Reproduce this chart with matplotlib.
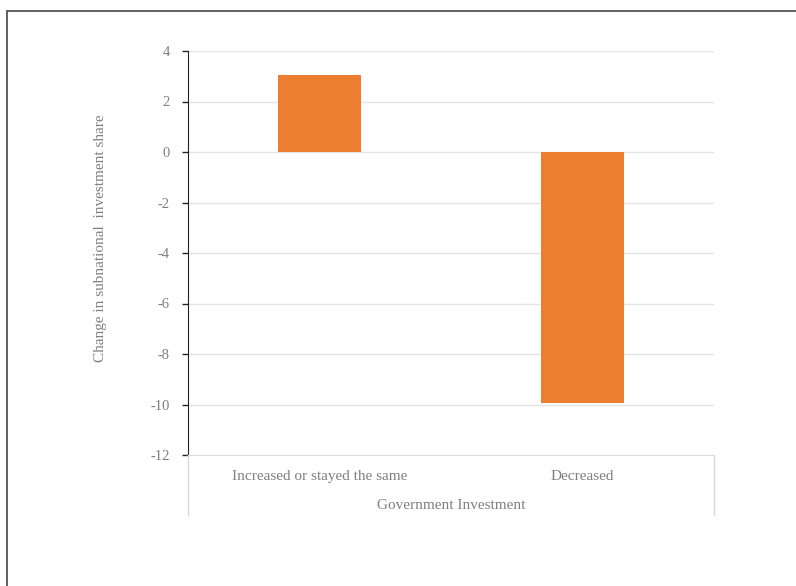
import matplotlib.pyplot as plt
from matplotlib.patches import Rectangle
import numpy as np

# data
categories = ["Increased or stayed the same", "Decreased"]
values = [3.05, -9.95]
yticks = [4, 2, 0, -2, -4, -6, -8, -10, -12]

plt.rcParams['font.family'] = ['Liberation Serif', 'DejaVu Serif']
grey = "#7f7f7f"

fig = plt.figure(figsize=(7.96, 5.86), dpi=100)
ax = fig.add_axes([188/796, 1-455/586, (714-188)/796, (455-51)/586])

x = np.arange(len(categories))
ax.bar(x, values, width=0.315, color="#ed7d31", zorder=3)

ax.set_xlim(-0.5, 1.5)
ax.set_ylim(-12, 4)
ax.set_yticks(yticks)
ax.set_yticklabels([str(t) for t in yticks])
ax.yaxis.grid(True, color="#e4e4e4", linewidth=1, zorder=0)

ax.set_xticks(x)
ax.set_xticklabels(categories)
ax.tick_params(axis='x', length=0, pad=11, labelsize=11, labelcolor=grey)
ax.tick_params(axis='y', length=4, width=1, color="#222222", pad=9, labelsize=10.5, labelcolor=grey)

for s in ['top', 'right']:
    ax.spines[s].set_visible(False)
ax.spines['left'].set_color("#222222")
ax.spines['bottom'].set_color("#dddddd")

# category area border lines
h = 60/404
for xx in [0, 1]:
    ax.plot([xx, xx], [0, -h], transform=ax.transAxes, color="#d9d9d9", lw=1, clip_on=False)

ax.set_xlabel("Government Investment", color=grey, fontsize=11, labelpad=11)
ax.set_ylabel("Change in subnational  investment share", color=grey, fontsize=11)
ax.yaxis.set_label_coords(-(188-107)/526, 0.537)

# outer frame
fig.patches.append(Rectangle((7/796, -0.1), 1.2, 1-11/586+0.1, transform=fig.transFigure,
                             fill=False, edgecolor="#444444", lw=1.2))

fig.savefig("out.png", dpi=100)
